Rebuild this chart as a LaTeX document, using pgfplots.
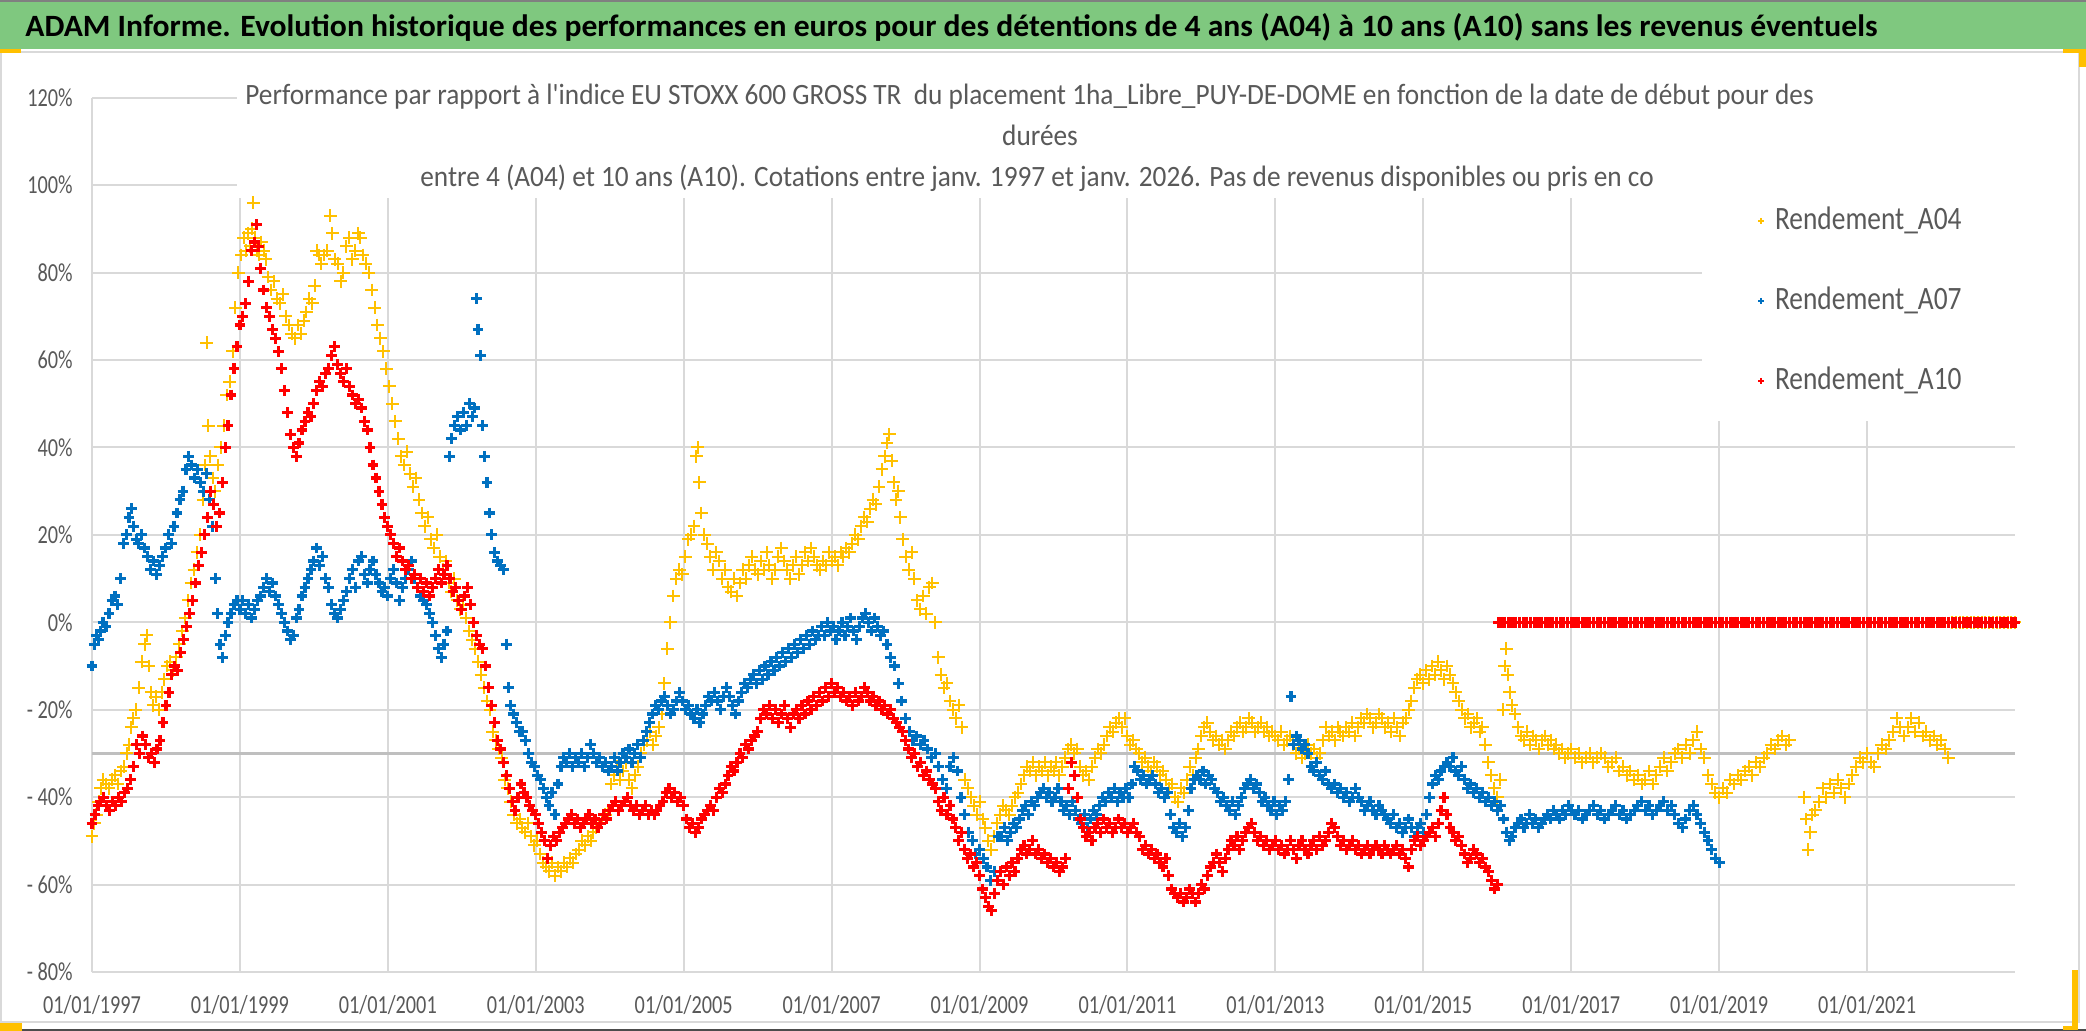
\documentclass[border=0pt]{standalone}
\usepackage{fontspec}
\setmainfont{Carlito}
\newfontfamily\tickfam{Carlito}[FakeStretch=0.78]
\newfontfamily\ttlfam{Carlito}[FakeStretch=0.925]
\newfontfamily\legfam{Carlito}[FakeStretch=0.84]
\usepackage{graphicx}
\usepackage{pgfplots}
\usepackage{pgfplotstable}
\pgfplotsset{compat=1.18}

\definecolor{ygold}{RGB}{255,192,0}
\definecolor{eblue}{RGB}{0,112,192}
\definecolor{ered}{RGB}{255,0,0}
\definecolor{txtgray}{RGB}{89,89,89}
\definecolor{gridgray}{RGB}{217,217,217}
\definecolor{axgray}{RGB}{191,191,191}
\definecolor{bargreen}{RGB}{127,200,127}

% zero values (start dates whose holding period is not over yet)
\pgfplotstableread[row sep=\\]{
x y\\
2016.02 0\\ 2016.05 0\\ 2016.10 0\\ 2016.15 0\\ 2016.20 0\\ 2016.25 0\\ 2016.30 0\\ 2016.35 0\\ 2016.40 0\\ 2016.45 0\\
2016.50 0\\ 2016.55 0\\ 2016.60 0\\ 2016.65 0\\ 2016.70 0\\ 2016.75 0\\ 2016.80 0\\ 2016.85 0\\ 2016.90 0\\ 2016.95 0\\
2017.00 0\\ 2017.05 0\\ 2017.10 0\\ 2017.15 0\\ 2017.20 0\\ 2017.25 0\\ 2017.30 0\\ 2017.35 0\\ 2017.40 0\\ 2017.45 0\\
2017.50 0\\ 2017.55 0\\ 2017.60 0\\ 2017.65 0\\ 2017.70 0\\ 2017.75 0\\ 2017.80 0\\ 2017.85 0\\ 2017.90 0\\ 2017.95 0\\
2018.00 0\\ 2018.05 0\\ 2018.10 0\\ 2018.15 0\\ 2018.20 0\\ 2018.25 0\\ 2018.30 0\\ 2018.35 0\\ 2018.40 0\\ 2018.45 0\\
2018.50 0\\ 2018.55 0\\ 2018.60 0\\ 2018.65 0\\ 2018.70 0\\ 2018.75 0\\ 2018.80 0\\ 2018.85 0\\ 2018.90 0\\ 2018.95 0\\
2019.00 0\\ 2019.05 0\\ 2019.10 0\\ 2019.15 0\\ 2019.20 0\\ 2019.25 0\\ 2019.30 0\\ 2019.35 0\\ 2019.40 0\\ 2019.45 0\\
2019.50 0\\ 2019.55 0\\ 2019.60 0\\ 2019.65 0\\ 2019.70 0\\ 2019.75 0\\ 2019.80 0\\ 2019.85 0\\ 2019.90 0\\ 2019.95 0\\
2020.00 0\\ 2020.05 0\\ 2020.10 0\\ 2020.15 0\\ 2020.20 0\\ 2020.25 0\\ 2020.30 0\\ 2020.35 0\\ 2020.40 0\\ 2020.45 0\\
2020.50 0\\ 2020.55 0\\ 2020.60 0\\ 2020.65 0\\ 2020.70 0\\ 2020.75 0\\ 2020.80 0\\ 2020.85 0\\ 2020.90 0\\ 2020.95 0\\
2021.00 0\\ 2021.05 0\\ 2021.10 0\\ 2021.15 0\\ 2021.20 0\\ 2021.25 0\\ 2021.30 0\\ 2021.35 0\\ 2021.40 0\\ 2021.45 0\\
2021.50 0\\ 2021.55 0\\ 2021.60 0\\ 2021.65 0\\ 2021.70 0\\ 2021.75 0\\ 2021.80 0\\ 2021.85 0\\ 2021.90 0\\ 2021.95 0\\
2022.00 0\\ 2022.05 0\\ 2022.10 0\\ 2022.15 0\\ 2022.20 0\\ 2022.25 0\\ 2022.30 0\\ 2022.35 0\\ 2022.40 0\\ 2022.45 0\\
2022.50 0\\ 2022.55 0\\ 2022.60 0\\ 2022.65 0\\ 2022.70 0\\ 2022.75 0\\ 2022.80 0\\ 2022.85 0\\ 2022.90 0\\ 2022.95 0\\
2023.00 0\\
}\zeros

\begin{document}
\begin{tikzpicture}
\begin{scope}[x=0.5pt,y=-0.5pt]
  \fill[white] (0,0) rectangle (2086,1031);
  \fill[bargreen] (0,0) rectangle (2086,49);
  \draw[gray, line width=1pt] (0,1) -- (2086,1);
  \draw[gridgray, line width=1pt] (1,52) rectangle (2079,1022);
  \draw[black!70, line width=1pt] (0,1030) -- (2086,1030);
  % selection handles
  \fill[ygold] (0,49) rectangle (21,53);
  \fill[ygold] (0,1023) rectangle (22,1031);
  \fill[ygold] (2063,49) rectangle (2086,53);
  \fill[ygold] (2079,49) rectangle (2086,67);
  \fill[ygold] (2072,970) rectangle (2078,1030);
  \fill[ygold] (2063,1026) rectangle (2078,1030);
  \node[anchor=base west, inner sep=0pt] at (25,37)
    {\resizebox{926pt}{\height}{\bfseries\fontsize{15.5}{18}\selectfont ADAM Informe. Evolution historique des performances en euros pour des détentions de 4 ans (A04) à 10 ans (A10) sans les revenus éventuels}};
\end{scope}

\begin{axis}[
  at={(46pt,-486pt)}, anchor=south west,
  width=961.5pt, height=437.15pt, scale only axis,
  xmin=1997, xmax=2023, ymin=-80, ymax=120,
  clip=false,
  axis line style={draw=none},
  tick style={draw=none},
  xtick={1997,1999,...,2021},
  xticklabels={01/01/1997,01/01/1999,01/01/2001,01/01/2003,01/01/2005,01/01/2007,01/01/2009,01/01/2011,01/01/2013,01/01/2015,01/01/2017,01/01/2019,01/01/2021},
  ytick={-80,-60,...,120},
  yticklabels={- 80\%,- 60\%,- 40\%,- 20\%,0\%,20\%,40\%,60\%,80\%,100\%,120\%},
  grid=major,
  grid style={gridgray, line width=1pt},
  extra y ticks={-30},
  extra y tick labels={},
  extra y tick style={grid style={axgray, line width=1.5pt}},
  ticklabel style={font=\tickfam\fontsize{13}{15}\selectfont, text=txtgray, inner sep=0pt},
  xticklabel style={anchor=base, yshift=-20.5pt},
  yticklabel style={anchor=east, xshift=-9.5pt},
  legend style={at={(axis cs:2019.526,95.23)}, anchor=north west, draw=none, fill=none,
    inner sep=0pt, outer sep=0pt, column sep=5.5pt, row sep=25pt,
    font=\legfam\fontsize{16.3}{18}\selectfont, text=txtgray,
    nodes={inner sep=0pt, text height=12pt, text depth=3pt}},
  legend cell align=left,
  legend image code/.code={\draw[#1, mark size=1.5pt, line width=0.9pt] plot coordinates {(0pt,0pt)};},
]
% white boxes of the title and of the legend
\fill[white] (axis cs:1998.96,123) rectangle (axis cs:2023.3,97.06);
\fill[white] (axis cs:2018.77,97.5) rectangle (axis cs:2023.3,46.0);

\addplot[only marks, mark=+, color=ygold, mark size=3.2pt, line width=1pt] coordinates {
(1997.00,-49) (1997.03,-46) (1997.06,-44) (1997.09,-41) (1997.12,-38) (1997.15,-36) (1997.19,-37) (1997.23,-38)
(1997.27,-36) (1997.31,-35) (1997.35,-37) (1997.39,-34) (1997.43,-33) (1997.47,-30) (1997.50,-28) (1997.53,-24)
(1997.56,-22) (1997.59,-20) (1997.63,-15) (1997.67,-9) (1997.71,-5) (1997.74,-3) (1997.77,-10) (1997.80,-16)
(1997.83,-19) (1997.86,-17) (1997.90,-20) (1997.94,-16) (1997.98,-13) (1998.02,-10) (1998.06,-9) (1998.10,-11)
(1998.14,-8) (1998.18,-5) (1998.22,-2) (1998.26,1) (1998.30,5) (1998.34,9) (1998.38,12) (1998.42,16)
(1998.46,20) (1998.50,28) (1998.53,36) (1998.55,64) (1998.57,45) (1998.60,38) (1998.63,33) (1998.66,30)
(1998.70,36) (1998.74,40) (1998.78,45) (1998.82,52) (1998.86,55) (1998.90,62) (1998.94,72) (1998.98,80)
(1999.02,84) (1999.05,88) (1999.08,85) (1999.11,89) (1999.14,86) (1999.16,90) (1999.18,96) (1999.20,88)
(1999.23,85) (1999.26,84) (1999.29,87) (1999.32,85) (1999.35,83) (1999.38,79) (1999.42,76) (1999.46,78)
(1999.50,74) (1999.54,73) (1999.58,75) (1999.62,70) (1999.66,68) (1999.70,66) (1999.74,65) (1999.78,68)
(1999.82,66) (1999.86,69) (1999.90,71) (1999.94,74) (1999.98,73) (2000.01,77) (2000.04,85) (2000.07,84)
(2000.10,82) (2000.14,84) (2000.18,85) (2000.22,93) (2000.25,89) (2000.28,83) (2000.32,82) (2000.36,78)
(2000.40,80) (2000.44,86) (2000.48,88) (2000.52,83) (2000.56,85) (2000.60,89) (2000.63,88) (2000.66,84)
(2000.70,82) (2000.74,80) (2000.78,76) (2000.82,72) (2000.86,68) (2000.90,65) (2000.94,62) (2000.98,58)
(2001.02,54) (2001.06,50) (2001.10,46) (2001.14,42) (2001.18,38) (2001.22,36) (2001.26,39) (2001.30,34)
(2001.34,31) (2001.38,33) (2001.42,28) (2001.46,25) (2001.50,22) (2001.54,24) (2001.58,19) (2001.62,17)
(2001.66,20) (2001.70,15) (2001.74,12) (2001.78,14) (2001.82,9) (2001.86,7) (2001.90,10) (2001.94,5)
(2001.98,3) (2002.02,4) (2002.06,1) (2002.10,-2) (2002.14,-4) (2002.18,-6) (2002.22,-9) (2002.26,-12)
(2002.30,-15) (2002.34,-18) (2002.38,-20) (2002.42,-25) (2002.46,-27) (2002.50,-29) (2002.54,-31) (2002.58,-36)
(2002.62,-38) (2002.66,-41) (2002.70,-44) (2002.74,-46) (2002.78,-45) (2002.82,-47) (2002.86,-48) (2002.90,-46)
(2002.94,-49) (2002.98,-51) (2003.02,-50) (2003.06,-53) (2003.10,-55) (2003.14,-56) (2003.18,-57) (2003.22,-55)
(2003.26,-58) (2003.30,-56) (2003.34,-57) (2003.38,-55) (2003.42,-56) (2003.46,-54) (2003.50,-55) (2003.54,-53)
(2003.58,-52) (2003.62,-50) (2003.66,-51) (2003.70,-49) (2003.74,-50) (2003.78,-48) (2003.82,-47) (2003.86,-46)
(2003.90,-45) (2003.94,-44) (2003.98,-43) (2004.02,-37) (2004.06,-35) (2004.10,-33) (2004.14,-36) (2004.18,-34)
(2004.22,-32) (2004.26,-36) (2004.30,-38) (2004.34,-35) (2004.38,-33) (2004.42,-30) (2004.46,-28) (2004.50,-27)
(2004.54,-25) (2004.58,-28) (2004.62,-26) (2004.66,-24) (2004.70,-21) (2004.74,-14) (2004.78,-6) (2004.82,0)
(2004.86,6) (2004.90,10) (2004.94,12) (2004.98,11) (2005.02,15) (2005.06,19) (2005.10,20) (2005.14,22)
(2005.17,38) (2005.19,40) (2005.21,32) (2005.24,25) (2005.28,20) (2005.32,18) (2005.36,15) (2005.40,12)
(2005.44,16) (2005.48,14) (2005.52,10) (2005.56,12) (2005.60,8) (2005.64,7) (2005.68,10) (2005.72,6)
(2005.76,9) (2005.80,12) (2005.84,10) (2005.88,13) (2005.92,15) (2005.96,12) (2006.00,11) (2006.04,14)
(2006.08,12) (2006.12,16) (2006.16,13) (2006.20,10) (2006.24,12) (2006.28,15) (2006.32,17) (2006.36,14)
(2006.40,12) (2006.44,10) (2006.48,13) (2006.52,15) (2006.56,11) (2006.60,13) (2006.64,16) (2006.68,14)
(2006.72,17) (2006.76,15) (2006.80,13) (2006.84,12) (2006.88,14) (2006.92,13) (2006.96,16) (2007.00,14)
(2007.04,15) (2007.08,13) (2007.12,16) (2007.16,15) (2007.20,17) (2007.24,16) (2007.28,18) (2007.32,20)
(2007.36,19) (2007.40,22) (2007.44,24) (2007.48,23) (2007.52,26) (2007.56,28) (2007.60,27) (2007.64,31)
(2007.68,35) (2007.72,38) (2007.75,41) (2007.78,43) (2007.81,37) (2007.84,32) (2007.87,28) (2007.90,30)
(2007.93,24) (2007.96,19) (2008.00,15) (2008.04,12) (2008.08,16) (2008.12,10) (2008.16,5) (2008.20,3)
(2008.24,6) (2008.28,2) (2008.32,8) (2008.36,9) (2008.40,0) (2008.44,-8) (2008.48,-12) (2008.52,-15)
(2008.56,-14) (2008.60,-18) (2008.64,-20) (2008.68,-22) (2008.72,-19) (2008.76,-24) (2008.80,-36) (2008.84,-38)
(2008.88,-40) (2008.92,-42) (2008.96,-44) (2009.00,-41) (2009.04,-45) (2009.08,-47) (2009.12,-50) (2009.16,-52)
(2009.20,-49) (2009.24,-46) (2009.28,-44) (2009.32,-42) (2009.36,-43) (2009.40,-44) (2009.44,-42) (2009.48,-40)
(2009.52,-39) (2009.56,-37) (2009.60,-35) (2009.64,-33) (2009.68,-34) (2009.72,-32) (2009.76,-35) (2009.80,-33)
(2009.84,-34) (2009.88,-32) (2009.92,-35) (2009.96,-33) (2010.00,-34) (2010.04,-32) (2010.08,-35) (2010.12,-33)
(2010.16,-31) (2010.20,-29) (2010.24,-28) (2010.28,-30) (2010.32,-29) (2010.36,-33) (2010.40,-35) (2010.44,-34)
(2010.48,-36) (2010.52,-33) (2010.56,-31) (2010.60,-29) (2010.64,-30) (2010.68,-28) (2010.72,-26) (2010.76,-24)
(2010.80,-25) (2010.84,-23) (2010.88,-22) (2010.92,-24) (2010.96,-22) (2011.00,-26) (2011.04,-28) (2011.08,-27)
(2011.12,-29) (2011.16,-30) (2011.20,-32) (2011.24,-31) (2011.28,-33) (2011.32,-34) (2011.36,-32) (2011.40,-33)
(2011.44,-35) (2011.48,-34) (2011.52,-36) (2011.56,-38) (2011.60,-37) (2011.64,-40) (2011.68,-41) (2011.72,-38)
(2011.76,-39) (2011.80,-36) (2011.84,-33) (2011.88,-35) (2011.92,-31) (2011.96,-29) (2012.00,-26) (2012.04,-24)
(2012.08,-23) (2012.12,-25) (2012.16,-27) (2012.20,-26) (2012.24,-28) (2012.28,-27) (2012.32,-29) (2012.36,-27)
(2012.40,-25) (2012.44,-26) (2012.48,-24) (2012.52,-23) (2012.56,-25) (2012.60,-24) (2012.64,-22) (2012.68,-23)
(2012.72,-25) (2012.76,-24) (2012.80,-23) (2012.84,-25) (2012.88,-24) (2012.92,-26) (2012.96,-25) (2013.00,-26)
(2013.04,-27) (2013.08,-25) (2013.12,-28) (2013.16,-27) (2013.20,-26) (2013.24,-28) (2013.28,-30) (2013.32,-29)
(2013.36,-31) (2013.40,-30) (2013.44,-28) (2013.48,-30) (2013.52,-29) (2013.56,-31) (2013.60,-30) (2013.64,-27)
(2013.68,-24) (2013.72,-26) (2013.76,-25) (2013.80,-27) (2013.84,-24) (2013.88,-25) (2013.92,-26) (2013.96,-24)
(2014.00,-25) (2014.04,-23) (2014.08,-26) (2014.12,-24) (2014.16,-22) (2014.20,-23) (2014.24,-21) (2014.28,-22)
(2014.32,-24) (2014.36,-23) (2014.40,-21) (2014.44,-22) (2014.48,-24) (2014.52,-23) (2014.56,-25) (2014.60,-22)
(2014.64,-24) (2014.68,-26) (2014.72,-23) (2014.76,-22) (2014.80,-20) (2014.84,-18) (2014.88,-15) (2014.92,-13)
(2014.96,-12) (2015.00,-14) (2015.04,-11) (2015.08,-13) (2015.12,-10) (2015.16,-12) (2015.20,-9) (2015.24,-11)
(2015.28,-13) (2015.32,-10) (2015.36,-12) (2015.40,-14) (2015.44,-16) (2015.48,-18) (2015.52,-20) (2015.56,-22)
(2015.60,-21) (2015.64,-24) (2015.68,-23) (2015.72,-22) (2015.76,-25) (2015.80,-24) (2015.84,-28) (2015.88,-32)
(2015.92,-35) (2015.96,-38) (2016.00,-40) (2016.04,-36) (2016.08,-20) (2016.10,-10) (2016.12,-6) (2016.14,-12)
(2016.17,-16) (2016.20,-19) (2016.24,-21) (2016.28,-24) (2016.32,-26) (2016.36,-27) (2016.40,-25) (2016.44,-28)
(2016.48,-26) (2016.52,-27) (2016.56,-29) (2016.60,-27) (2016.64,-26) (2016.68,-28) (2016.72,-27) (2016.76,-29)
(2016.80,-28) (2016.84,-30) (2016.88,-29) (2016.92,-31) (2016.96,-30) (2017.00,-29) (2017.05,-31) (2017.10,-30)
(2017.15,-32) (2017.20,-31) (2017.25,-30) (2017.30,-32) (2017.35,-31) (2017.40,-30) (2017.45,-31) (2017.50,-33)
(2017.55,-32) (2017.60,-31) (2017.65,-34) (2017.70,-33) (2017.75,-35) (2017.80,-34) (2017.85,-36) (2017.90,-35)
(2017.95,-37) (2018.00,-36) (2018.05,-34) (2018.10,-37) (2018.15,-35) (2018.20,-33) (2018.25,-31) (2018.30,-34)
(2018.35,-32) (2018.40,-30) (2018.45,-29) (2018.50,-31) (2018.55,-28) (2018.60,-30) (2018.65,-27) (2018.70,-25)
(2018.75,-29) (2018.80,-31) (2018.85,-35) (2018.90,-37) (2018.95,-39) (2019.00,-40) (2019.05,-38) (2019.10,-39)
(2019.15,-36) (2019.20,-37) (2019.25,-35) (2019.30,-36) (2019.35,-34) (2019.40,-33) (2019.45,-35) (2019.50,-32)
(2019.55,-33) (2019.60,-31) (2019.65,-30) (2019.70,-28) (2019.75,-29) (2019.80,-27) (2019.85,-26) (2019.90,-28)
(2019.95,-27) (2020.15,-40) (2020.18,-45) (2020.20,-52) (2020.23,-48) (2020.26,-44) (2020.30,-43) (2020.35,-41)
(2020.40,-38) (2020.45,-40) (2020.50,-37) (2020.55,-39) (2020.60,-36) (2020.65,-38) (2020.70,-40) (2020.75,-37)
(2020.80,-35) (2020.85,-33) (2020.90,-31) (2020.95,-32) (2021.00,-30) (2021.05,-32) (2021.10,-33) (2021.15,-30)
(2021.20,-28) (2021.25,-29) (2021.30,-27) (2021.35,-25) (2021.40,-22) (2021.45,-24) (2021.50,-26) (2021.55,-24)
(2021.60,-22) (2021.65,-25) (2021.70,-23) (2021.75,-26) (2021.80,-25) (2021.85,-27) (2021.90,-26) (2021.95,-28)
(2022.00,-27) (2022.05,-29) (2022.10,-31)
};
\addlegendentry{Rendement\_A04}
\addplot[only marks, mark=+, color=ygold, mark size=3.2pt, line width=1pt, forget plot,
  restrict x to domain=2022.12:2023.01] table {\zeros};

\addplot[only marks, mark=+, color=eblue, mark size=2.7pt, line width=1.6pt] coordinates {
(1997.00,-10) (1997.03,-5) (1997.06,-3) (1997.09,-4) (1997.12,-2) (1997.15,0) (1997.19,-1) (1997.23,2)
(1997.27,5) (1997.31,6) (1997.35,4) (1997.39,10) (1997.43,18) (1997.47,20) (1997.50,24) (1997.53,26)
(1997.56,22) (1997.60,19) (1997.63,18) (1997.67,20) (1997.71,17) (1997.75,15) (1997.79,12) (1997.83,14)
(1997.87,11) (1997.91,13) (1997.95,15) (1997.99,17) (1998.03,20) (1998.07,18) (1998.11,22) (1998.15,25)
(1998.19,28) (1998.23,30) (1998.27,35) (1998.31,38) (1998.35,36) (1998.39,33) (1998.43,35) (1998.47,32)
(1998.51,30) (1998.55,34) (1998.59,28) (1998.63,22) (1998.67,10) (1998.70,2) (1998.73,-5) (1998.76,-8)
(1998.80,-3) (1998.84,0) (1998.88,2) (1998.92,4) (1998.96,5) (1999.00,3) (1999.04,5) (1999.08,2)
(1999.12,4) (1999.16,1) (1999.20,3) (1999.24,5) (1999.28,6) (1999.32,8) (1999.36,10) (1999.40,7)
(1999.44,9) (1999.48,6) (1999.52,4) (1999.56,2) (1999.60,0) (1999.64,-2) (1999.68,-4) (1999.72,-3)
(1999.76,1) (1999.80,3) (1999.84,6) (1999.88,8) (1999.92,10) (1999.96,12) (2000.00,14) (2000.04,17)
(2000.08,13) (2000.12,15) (2000.16,10) (2000.20,8) (2000.24,4) (2000.28,2) (2000.32,1) (2000.36,3)
(2000.40,5) (2000.44,7) (2000.48,10) (2000.52,12) (2000.56,8) (2000.60,14) (2000.64,15) (2000.68,11)
(2000.72,9) (2000.76,12) (2000.80,14) (2000.84,11) (2000.88,9) (2000.92,7) (2000.96,8) (2001.00,6)
(2001.04,10) (2001.08,12) (2001.12,9) (2001.16,5) (2001.20,8) (2001.24,10) (2001.28,12) (2001.32,14)
(2001.36,10) (2001.40,8) (2001.44,6) (2001.48,5) (2001.52,4) (2001.56,2) (2001.60,0) (2001.64,-3)
(2001.68,-6) (2001.72,-8) (2001.76,-5) (2001.80,-2) (2001.83,38) (2001.86,42) (2001.90,45) (2001.94,47)
(2001.98,44) (2002.02,48) (2002.06,45) (2002.10,50) (2002.14,47) (2002.17,49) (2002.20,74) (2002.22,67)
(2002.25,61) (2002.28,45) (2002.31,38) (2002.34,32) (2002.37,25) (2002.40,20) (2002.44,16) (2002.48,14)
(2002.52,13) (2002.56,12) (2002.60,-5) (2002.63,-15) (2002.66,-19) (2002.70,-21) (2002.74,-23) (2002.78,-25)
(2002.82,-25) (2002.86,-27) (2002.90,-30) (2002.94,-32) (2002.98,-33) (2003.02,-35) (2003.06,-36) (2003.10,-38)
(2003.14,-40) (2003.18,-42) (2003.22,-39) (2003.26,-44) (2003.30,-37) (2003.34,-33) (2003.38,-31) (2003.42,-32)
(2003.46,-30) (2003.50,-33) (2003.54,-31) (2003.58,-32) (2003.62,-30) (2003.66,-33) (2003.70,-31) (2003.74,-28)
(2003.78,-30) (2003.82,-32) (2003.86,-31) (2003.90,-33) (2003.94,-32) (2003.98,-34) (2004.02,-33) (2004.06,-31)
(2004.10,-34) (2004.14,-32) (2004.18,-30) (2004.22,-31) (2004.26,-29) (2004.30,-32) (2004.34,-30) (2004.38,-28)
(2004.42,-31) (2004.46,-27) (2004.50,-25) (2004.54,-23) (2004.58,-21) (2004.62,-19) (2004.66,-20) (2004.70,-18)
(2004.74,-17) (2004.78,-19) (2004.82,-21) (2004.86,-20) (2004.90,-18) (2004.94,-16) (2004.98,-18) (2005.02,-20)
(2005.06,-19) (2005.10,-21) (2005.14,-22) (2005.18,-20) (2005.22,-23) (2005.26,-21) (2005.30,-19) (2005.34,-17)
(2005.38,-18) (2005.42,-16) (2005.46,-18) (2005.50,-20) (2005.54,-17) (2005.58,-15) (2005.62,-17) (2005.66,-19)
(2005.70,-21) (2005.74,-18) (2005.78,-16) (2005.82,-14) (2005.86,-15) (2005.90,-13) (2005.94,-12) (2005.98,-14)
(2006.02,-11) (2006.06,-13) (2006.10,-10) (2006.14,-12) (2006.18,-9) (2006.22,-11) (2006.26,-8) (2006.30,-10)
(2006.34,-7) (2006.38,-9) (2006.42,-6) (2006.46,-8) (2006.50,-5) (2006.54,-7) (2006.58,-4) (2006.62,-6)
(2006.66,-3) (2006.70,-5) (2006.74,-2) (2006.78,-4) (2006.82,-3) (2006.86,-1) (2006.90,-3) (2006.94,0)
(2006.98,-2) (2007.02,-1) (2007.06,-4) (2007.10,-2) (2007.14,0) (2007.18,-3) (2007.22,-1) (2007.26,1)
(2007.30,-2) (2007.34,-4) (2007.38,-1) (2007.42,1) (2007.46,2) (2007.50,0) (2007.54,-2) (2007.58,1)
(2007.62,-1) (2007.66,-3) (2007.70,-2) (2007.75,-5) (2007.80,-8) (2007.85,-10) (2007.90,-14) (2007.95,-18)
(2008.00,-22) (2008.05,-25) (2008.10,-27) (2008.15,-26) (2008.20,-28) (2008.25,-27) (2008.30,-29) (2008.35,-31)
(2008.40,-30) (2008.45,-33) (2008.50,-36) (2008.55,-38) (2008.60,-33) (2008.65,-31) (2008.70,-34) (2008.75,-40)
(2008.80,-44) (2008.85,-48) (2008.90,-50) (2008.95,-53) (2009.00,-52) (2009.05,-54) (2009.10,-56) (2009.15,-59)
(2009.20,-57) (2009.25,-49) (2009.30,-49) (2009.34,-47) (2009.38,-50) (2009.42,-48) (2009.46,-46) (2009.50,-47)
(2009.54,-45) (2009.58,-43) (2009.62,-42) (2009.66,-44) (2009.70,-41) (2009.74,-42) (2009.78,-40) (2009.82,-39)
(2009.86,-38) (2009.90,-40) (2009.94,-39) (2009.98,-41) (2010.02,-40) (2010.06,-38) (2010.10,-41) (2010.14,-43)
(2010.18,-42) (2010.22,-44) (2010.26,-41) (2010.30,-43) (2010.34,-45) (2010.38,-46) (2010.42,-44) (2010.46,-47)
(2010.50,-45) (2010.54,-43) (2010.58,-44) (2010.62,-42) (2010.66,-40) (2010.70,-41) (2010.74,-39) (2010.78,-40)
(2010.82,-38) (2010.86,-41) (2010.90,-39) (2010.94,-40) (2010.98,-38) (2011.02,-40) (2011.06,-37) (2011.10,-33)
(2011.14,-34) (2011.18,-36) (2011.22,-35) (2011.26,-37) (2011.30,-36) (2011.34,-35) (2011.38,-37) (2011.42,-39)
(2011.46,-38) (2011.50,-40) (2011.54,-39) (2011.58,-44) (2011.62,-47) (2011.66,-48) (2011.70,-46) (2011.74,-49)
(2011.78,-47) (2011.82,-43) (2011.86,-38) (2011.90,-36) (2011.94,-35) (2011.98,-36) (2012.02,-34) (2012.06,-37)
(2012.10,-35) (2012.14,-36) (2012.18,-38) (2012.22,-39) (2012.26,-41) (2012.30,-40) (2012.34,-42) (2012.38,-43)
(2012.42,-41) (2012.46,-44) (2012.50,-42) (2012.54,-40) (2012.58,-38) (2012.62,-37) (2012.66,-36) (2012.70,-38)
(2012.74,-37) (2012.78,-39) (2012.82,-41) (2012.86,-40) (2012.90,-42) (2012.94,-43) (2012.98,-41) (2013.02,-44)
(2013.06,-42) (2013.10,-43) (2013.14,-41) (2013.18,-36) (2013.21,-17) (2013.24,-28) (2013.28,-26) (2013.32,-27)
(2013.36,-29) (2013.40,-28) (2013.44,-30) (2013.48,-33) (2013.52,-34) (2013.56,-32) (2013.60,-35) (2013.64,-36)
(2013.68,-34) (2013.72,-37) (2013.76,-38) (2013.80,-37) (2013.84,-39) (2013.88,-38) (2013.92,-40) (2013.96,-39)
(2014.00,-41) (2014.04,-40) (2014.08,-38) (2014.12,-40) (2014.16,-41) (2014.20,-43) (2014.24,-42) (2014.28,-41)
(2014.32,-43) (2014.36,-44) (2014.40,-42) (2014.44,-43) (2014.48,-44) (2014.52,-45) (2014.56,-46) (2014.60,-44)
(2014.64,-47) (2014.68,-46) (2014.72,-48) (2014.76,-47) (2014.80,-45) (2014.84,-47) (2014.88,-49) (2014.92,-47)
(2014.96,-46) (2015.00,-48) (2015.04,-44) (2015.08,-40) (2015.12,-37) (2015.16,-35) (2015.20,-36) (2015.24,-34)
(2015.28,-33) (2015.32,-32) (2015.36,-33) (2015.40,-31) (2015.44,-34) (2015.48,-35) (2015.52,-33) (2015.56,-36)
(2015.60,-38) (2015.64,-37) (2015.68,-39) (2015.72,-38) (2015.76,-40) (2015.80,-39) (2015.84,-41) (2015.88,-40)
(2015.92,-42) (2015.96,-41) (2016.00,-43) (2016.04,-42) (2016.08,-45) (2016.12,-48) (2016.16,-50) (2016.20,-49)
(2016.24,-47) (2016.28,-46) (2016.32,-45) (2016.36,-47) (2016.40,-46) (2016.44,-44) (2016.48,-46) (2016.52,-45)
(2016.56,-47) (2016.60,-46) (2016.64,-45) (2016.68,-44) (2016.72,-45) (2016.76,-43) (2016.80,-44) (2016.84,-45)
(2016.88,-43) (2016.92,-44) (2016.96,-42) (2017.00,-43) (2017.05,-44) (2017.10,-43) (2017.15,-45) (2017.20,-44)
(2017.25,-43) (2017.30,-42) (2017.35,-44) (2017.40,-43) (2017.45,-45) (2017.50,-44) (2017.55,-43) (2017.60,-42)
(2017.65,-44) (2017.70,-43) (2017.75,-45) (2017.80,-44) (2017.85,-43) (2017.90,-42) (2017.95,-41) (2018.00,-43)
(2018.05,-42) (2018.10,-44) (2018.15,-43) (2018.20,-42) (2018.25,-41) (2018.30,-43) (2018.35,-42) (2018.40,-44)
(2018.45,-46) (2018.50,-47) (2018.55,-45) (2018.60,-43) (2018.65,-42) (2018.70,-44) (2018.75,-46) (2018.80,-48)
(2018.85,-50) (2018.90,-52) (2018.95,-54) (2019.00,-55)
};
\addlegendentry{Rendement\_A07}
\addplot[only marks, mark=+, color=eblue, mark size=2.7pt, line width=1.6pt, forget plot,
  restrict x to domain=2019.02:2023.01] table {\zeros};

\addplot[only marks, mark=+, color=ered, mark size=2.7pt, line width=1.6pt] coordinates {
(1997.00,-46) (1997.04,-44) (1997.08,-42) (1997.12,-41) (1997.16,-40) (1997.20,-42) (1997.24,-43) (1997.28,-41)
(1997.32,-42) (1997.36,-40) (1997.40,-41) (1997.44,-39) (1997.48,-38) (1997.52,-36) (1997.56,-33) (1997.60,-28)
(1997.64,-30) (1997.68,-26) (1997.72,-28) (1997.76,-31) (1997.80,-30) (1997.84,-32) (1997.88,-29) (1997.92,-27)
(1997.96,-23) (1998.00,-19) (1998.04,-16) (1998.08,-12) (1998.12,-10) (1998.16,-11) (1998.20,-7) (1998.24,-4)
(1998.28,-1) (1998.32,2) (1998.36,5) (1998.40,9) (1998.44,13) (1998.48,16) (1998.52,20) (1998.56,24)
(1998.60,30) (1998.64,27) (1998.68,22) (1998.72,25) (1998.76,32) (1998.80,40) (1998.84,45) (1998.88,52)
(1998.92,58) (1998.96,63) (1999.00,68) (1999.04,70) (1999.08,73) (1999.12,78) (1999.16,85) (1999.20,87)
(1999.22,91) (1999.25,86) (1999.28,81) (1999.32,76) (1999.36,72) (1999.40,70) (1999.44,67) (1999.48,65)
(1999.52,62) (1999.56,58) (1999.60,53) (1999.64,48) (1999.68,43) (1999.72,40) (1999.76,38) (1999.80,41)
(1999.84,44) (1999.88,46) (1999.92,48) (1999.96,47) (2000.00,50) (2000.04,53) (2000.08,55) (2000.12,54)
(2000.16,57) (2000.20,58) (2000.24,61) (2000.28,63) (2000.32,59) (2000.36,57) (2000.40,55) (2000.44,58)
(2000.48,54) (2000.52,52) (2000.56,50) (2000.60,51) (2000.64,49) (2000.68,46) (2000.72,44) (2000.76,40)
(2000.80,36) (2000.84,33) (2000.88,30) (2000.92,27) (2000.96,24) (2001.00,22) (2001.04,20) (2001.08,18)
(2001.12,15) (2001.16,17) (2001.20,14) (2001.24,12) (2001.28,13) (2001.32,10) (2001.36,11) (2001.40,8)
(2001.44,10) (2001.48,7) (2001.52,9) (2001.56,6) (2001.60,8) (2001.64,10) (2001.68,12) (2001.72,9)
(2001.76,11) (2001.80,13) (2001.84,10) (2001.88,7) (2001.92,8) (2001.96,5) (2002.00,3) (2002.04,6)
(2002.08,8) (2002.12,4) (2002.16,0) (2002.20,-3) (2002.24,-5) (2002.28,-6) (2002.32,-10) (2002.36,-15)
(2002.40,-19) (2002.44,-23) (2002.48,-27) (2002.52,-29) (2002.56,-32) (2002.60,-35) (2002.64,-38) (2002.68,-41)
(2002.72,-43) (2002.76,-40) (2002.80,-37) (2002.84,-39) (2002.88,-40) (2002.92,-42) (2002.96,-43) (2003.00,-44)
(2003.04,-46) (2003.08,-48) (2003.12,-50) (2003.16,-54) (2003.20,-51) (2003.24,-49) (2003.28,-50) (2003.32,-48)
(2003.36,-47) (2003.40,-46) (2003.44,-45) (2003.48,-44) (2003.52,-46) (2003.56,-45) (2003.60,-47) (2003.64,-46)
(2003.68,-45) (2003.72,-44) (2003.76,-46) (2003.80,-45) (2003.84,-47) (2003.88,-46) (2003.92,-44) (2003.96,-45)
(2004.00,-43) (2004.04,-42) (2004.08,-41) (2004.12,-43) (2004.16,-42) (2004.20,-41) (2004.24,-40) (2004.28,-42)
(2004.32,-43) (2004.36,-42) (2004.40,-44) (2004.44,-43) (2004.48,-42) (2004.52,-44) (2004.56,-43) (2004.60,-44)
(2004.64,-43) (2004.68,-42) (2004.72,-41) (2004.76,-39) (2004.80,-38) (2004.84,-40) (2004.88,-39) (2004.92,-41)
(2004.96,-40) (2005.00,-42) (2005.04,-45) (2005.08,-47) (2005.12,-46) (2005.16,-48) (2005.20,-47) (2005.24,-45)
(2005.28,-44) (2005.32,-43) (2005.36,-42) (2005.40,-43) (2005.44,-40) (2005.48,-38) (2005.52,-39) (2005.56,-37)
(2005.60,-35) (2005.64,-33) (2005.68,-34) (2005.72,-32) (2005.76,-30) (2005.80,-31) (2005.84,-28) (2005.88,-29)
(2005.92,-27) (2005.96,-26) (2006.00,-25) (2006.04,-22) (2006.08,-20) (2006.12,-21) (2006.16,-19) (2006.20,-22)
(2006.24,-20) (2006.28,-23) (2006.32,-21) (2006.36,-19) (2006.40,-22) (2006.44,-24) (2006.48,-21) (2006.52,-20)
(2006.56,-22) (2006.60,-19) (2006.64,-21) (2006.68,-18) (2006.72,-20) (2006.76,-17) (2006.80,-19) (2006.84,-16)
(2006.88,-18) (2006.92,-15) (2006.96,-17) (2007.00,-14) (2007.04,-16) (2007.08,-15) (2007.12,-17) (2007.16,-16)
(2007.20,-18) (2007.24,-17) (2007.28,-19) (2007.32,-16) (2007.36,-18) (2007.40,-17) (2007.44,-15) (2007.48,-16)
(2007.52,-18) (2007.56,-17) (2007.60,-19) (2007.64,-18) (2007.68,-20) (2007.72,-19) (2007.76,-21) (2007.80,-20)
(2007.84,-22) (2007.88,-23) (2007.92,-24) (2007.96,-25) (2008.00,-27) (2008.04,-29) (2008.08,-31) (2008.12,-30)
(2008.16,-33) (2008.20,-32) (2008.24,-35) (2008.28,-34) (2008.32,-36) (2008.36,-37) (2008.40,-38) (2008.44,-41)
(2008.48,-43) (2008.52,-40) (2008.56,-44) (2008.60,-42) (2008.64,-45) (2008.68,-47) (2008.72,-50) (2008.76,-48)
(2008.80,-52) (2008.84,-54) (2008.88,-53) (2008.92,-56) (2008.96,-55) (2009.00,-58) (2009.04,-61) (2009.08,-63)
(2009.12,-65) (2009.16,-66) (2009.20,-62) (2009.24,-59) (2009.28,-57) (2009.32,-60) (2009.36,-56) (2009.40,-58)
(2009.44,-55) (2009.48,-57) (2009.52,-54) (2009.56,-52) (2009.60,-51) (2009.64,-53) (2009.68,-52) (2009.72,-50)
(2009.76,-53) (2009.80,-52) (2009.84,-54) (2009.88,-53) (2009.92,-55) (2009.96,-54) (2010.00,-56) (2010.04,-55)
(2010.08,-57) (2010.12,-56) (2010.16,-54) (2010.20,-38) (2010.24,-32) (2010.28,-35) (2010.32,-40) (2010.36,-45)
(2010.40,-47) (2010.44,-49) (2010.48,-48) (2010.52,-50) (2010.56,-47) (2010.60,-46) (2010.64,-48) (2010.68,-45)
(2010.72,-47) (2010.76,-46) (2010.80,-48) (2010.84,-47) (2010.88,-45) (2010.92,-47) (2010.96,-46) (2011.00,-48)
(2011.04,-47) (2011.08,-46) (2011.12,-48) (2011.16,-49) (2011.20,-52) (2011.24,-51) (2011.28,-53) (2011.32,-52)
(2011.36,-54) (2011.40,-53) (2011.44,-55) (2011.48,-56) (2011.52,-54) (2011.56,-58) (2011.60,-61) (2011.64,-62)
(2011.68,-63) (2011.72,-62) (2011.76,-64) (2011.80,-63) (2011.84,-61) (2011.88,-62) (2011.92,-64) (2011.96,-62)
(2012.00,-60) (2012.04,-61) (2012.08,-58) (2012.12,-56) (2012.16,-55) (2012.20,-53) (2012.24,-55) (2012.28,-57)
(2012.32,-54) (2012.36,-52) (2012.40,-50) (2012.44,-51) (2012.48,-49) (2012.52,-52) (2012.56,-50) (2012.60,-48)
(2012.64,-47) (2012.68,-46) (2012.72,-48) (2012.76,-50) (2012.80,-49) (2012.84,-51) (2012.88,-50) (2012.92,-52)
(2012.96,-51) (2013.00,-50) (2013.04,-52) (2013.08,-51) (2013.12,-53) (2013.16,-52) (2013.20,-50) (2013.24,-52)
(2013.28,-54) (2013.32,-51) (2013.36,-50) (2013.40,-52) (2013.44,-53) (2013.48,-51) (2013.52,-50) (2013.56,-52)
(2013.60,-49) (2013.64,-51) (2013.68,-50) (2013.72,-48) (2013.76,-46) (2013.80,-47) (2013.84,-49) (2013.88,-51)
(2013.92,-50) (2013.96,-52) (2014.00,-51) (2014.04,-50) (2014.08,-52) (2014.12,-51) (2014.16,-53) (2014.20,-52)
(2014.24,-51) (2014.28,-53) (2014.32,-52) (2014.36,-51) (2014.40,-52) (2014.44,-53) (2014.48,-51) (2014.52,-52)
(2014.56,-53) (2014.60,-52) (2014.64,-51) (2014.68,-53) (2014.72,-52) (2014.76,-54) (2014.80,-56) (2014.84,-52)
(2014.88,-50) (2014.92,-49) (2014.96,-51) (2015.00,-50) (2015.04,-49) (2015.08,-48) (2015.12,-47) (2015.16,-49)
(2015.20,-46) (2015.24,-43) (2015.28,-40) (2015.32,-44) (2015.36,-47) (2015.40,-48) (2015.44,-50) (2015.48,-49)
(2015.52,-51) (2015.56,-53) (2015.60,-55) (2015.64,-54) (2015.68,-52) (2015.72,-53) (2015.76,-55) (2015.80,-54)
(2015.84,-56) (2015.88,-57) (2015.92,-59) (2015.96,-61) (2016.00,-60)
};
\addlegendentry{Rendement\_A10}
\addplot[only marks, mark=+, color=ered, mark size=2.7pt, line width=1.6pt, forget plot,
  restrict x to domain=2016.01:2023.01] table {\zeros};
\end{axis}

\begin{scope}[x=0.5pt,y=-0.5pt]
  \begin{scope}[every node/.style={inner sep=0pt, text=txtgray, font=\ttlfam\fontsize{14.75}{17}\selectfont}]
    \node[anchor=base west] at (245,105) {Performance par rapport à l'indice EU STOXX 600 GROSS TR~ du placement 1ha\_Libre\_PUY-DE-DOME en fonction de la date de début pour des};
    \node[anchor=base] at (1040,146) {durées};
    \node[anchor=base west] at (420,187) {entre 4 (A04) et 10 ans (A10). Cotations entre janv. 1997 et janv. 2026. Pas de revenus disponibles ou pris en co};
  \end{scope}
  \pgfresetboundingbox
  \path[use as bounding box] (0,0) rectangle (2086,1031);
\end{scope}
\end{tikzpicture}
\end{document}
